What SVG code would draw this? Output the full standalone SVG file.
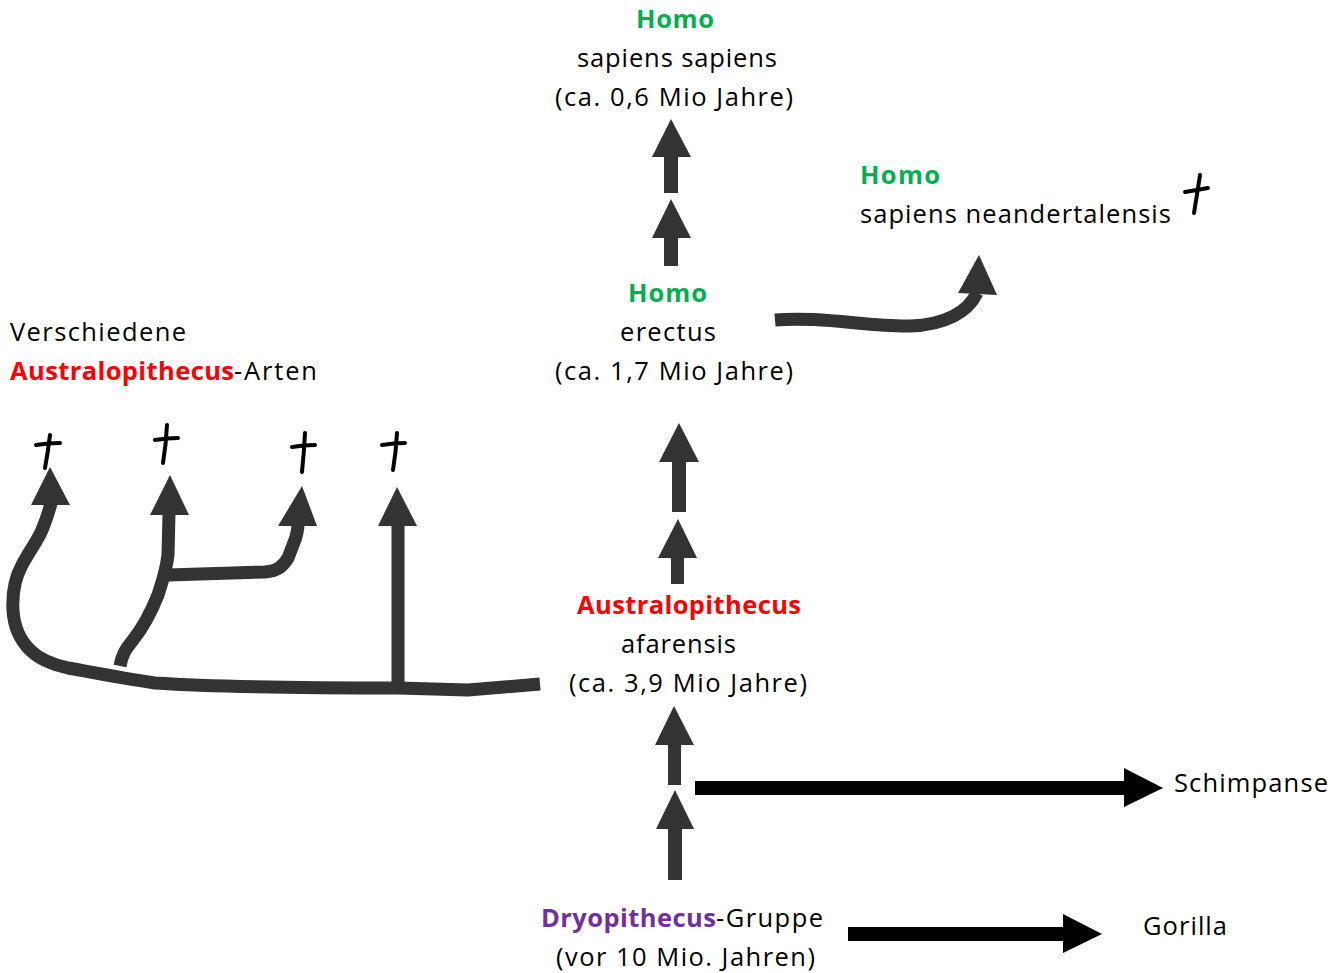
<svg xmlns="http://www.w3.org/2000/svg" width="1342" height="973" viewBox="0 0 1342 973">
<style>
text{font-family:"Open Sans","Liberation Sans",sans-serif;font-size:25.5px;fill:#000}
.b{font-weight:bold}
.g{fill:#00B050}
.r{fill:#FF0000}
.p{fill:#7030A0}
.ga{fill:#333}
.bk{fill:#000}
.ln{fill:none;stroke:#333;stroke-width:13;stroke-linejoin:round}
.cr{fill:none;stroke:#000;stroke-width:4;stroke-linecap:round}
</style>
<rect width="1342" height="973" fill="#fff"/>
<g id="connectors">
<path class="ga" d="M671,119 L691,157 L678,157 L678,193 L664,193 L664,157 L652,157 Z"/>
<path class="ga" d="M671,199 L691,238 L678,238 L678,266 L664,266 L664,238 L652,238 Z"/>
<path class="ga" d="M679,423 L699,462 L686,462 L686,512 L672,512 L672,462 L659,462 Z"/>
<path class="ga" d="M678,519 L697,558 L684,558 L684,584 L671,584 L671,558 L658,558 Z"/>
<path class="ga" d="M674,706 L694,745 L681,745 L681,785 L668,785 L668,745 L655,745 Z"/>
<path class="ga" d="M675,790 L694,829 L682,829 L682,880 L668,880 L668,829 L656,829 Z"/>
<path class="bk" d="M695,781 H1124 V768 L1163,788 L1124,807 V795 H695 Z"/>
<path class="bk" d="M848,927 H1063 V914 L1102,934 L1063,953 V941 H848 Z"/>
<path class="ln" d="M775,320 C820,316 870,327 910,326 C945,325 968,312 977,293"/>
<path class="ga" d="M979,255 L997,295 L958,293 Z"/>
<path class="ln" d="M540,684 L468,690 L398,688 C300,688 200,686 155,683 C120,678 90,672 68,668 C50,664 38,658 30,650 C20,640 14,628 13,610 C12,592 15,578 22,565 C30,550 38,540 42,530 C46,520 49,512 51,503"/>
<path class="ga" d="M50,467 L70,505 L31,505 Z"/>
<path class="ln" d="M120,666 C122,655 125,650 133,640 C145,625 152,610 158,595 C162,582 166,572 168,555 L169,513"/>
<path class="ga" d="M170,475 L189,515 L150,515 Z"/>
<path class="ln" d="M168,575 L265,572 C278,571 283,566 288,558 L293,545 C296,538 298,533 298,524"/>
<path class="ga" d="M302,486 L317,526 L278,526 Z"/>
<path class="ln" d="M398,688 L398,524"/>
<path class="ga" d="M397,487 L417,526 L378,526 Z"/>
</g>
<g id="crosses">
<path class="cr" d="M36,445 Q48,443 60,443 M50,435 Q48,452 45,468"/>
<path class="cr" d="M155,440 Q167,438 178,438 M167,425 Q166,445 163,463"/>
<path class="cr" d="M292,447 Q304,445 315,445 M305,433 Q304,453 302,472"/>
<path class="cr" d="M382,445 Q394,443 405,443 M397,433 Q396,452 393,470"/>
<path class="cr" d="M1185,192 Q1197,190 1208,188 M1200,175 Q1197,195 1194,213"/>
</g>
<g id="node-homo-sapiens">
<text class="b g" x="636" y="28" textLength="78">Homo</text>
<text x="577" y="67" textLength="200">sapiens sapiens</text>
<text x="555" y="106" textLength="238">(ca. 0,6 Mio Jahre)</text>
</g>
<g id="node-neandertal">
<text class="b g" x="860" y="184" textLength="80">Homo</text>
<text x="860" y="223" textLength="311">sapiens neandertalensis</text>
</g>
<g id="node-homo-erectus">
<text class="b g" x="628" y="302" textLength="79">Homo</text>
<text x="620" y="341" textLength="96">erectus</text>
<text x="555" y="380" textLength="238">(ca. 1,7 Mio Jahre)</text>
</g>
<g id="node-australopithecus-arten">
<text x="10" y="341" textLength="176">Verschiedene</text>
<text x="10" y="380"><tspan class="b r" textLength="224">Australopithecus</tspan><tspan x="234" textLength="83">-Arten</tspan></text>
</g>
<g id="node-afarensis">
<text class="b r" x="577" y="614" textLength="224">Australopithecus</text>
<text x="621" y="653" textLength="115">afarensis</text>
<text x="569" y="692" textLength="238">(ca. 3,9 Mio Jahre)</text>
</g>
<g id="node-schimpanse">
<text x="1174" y="792" textLength="154">Schimpanse</text>
</g>
<g id="node-dryopithecus">
<text x="541" y="927"><tspan class="b p" textLength="175">Dryopithecus</tspan><tspan x="716" textLength="107">-Gruppe</tspan></text>
<text x="556" y="966" textLength="259">(vor 10 Mio. Jahren)</text>
</g>
<g id="node-gorilla">
<text x="1143" y="935" textLength="84">Gorilla</text>
</g>
</svg>
